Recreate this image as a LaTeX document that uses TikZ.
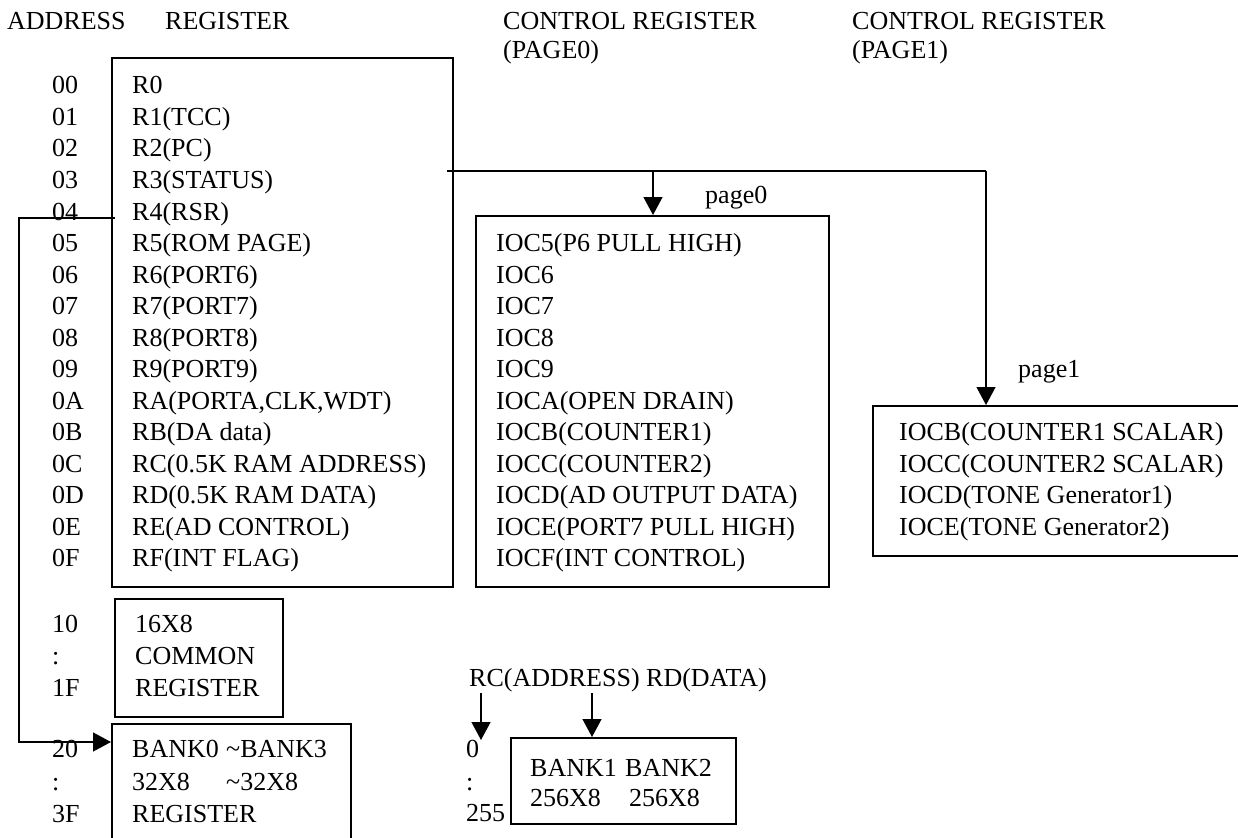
\documentclass[tikz,border=0pt]{standalone}
\usepackage{fontspec}
\setmainfont{Liberation Serif}
\usetikzlibrary{arrows.meta}
\begin{document}
\begin{tikzpicture}[x=1pt,y=-1pt,
  every node/.style={inner sep=0pt, font=\fontsize{26}{31}\selectfont},
  lbl/.style={anchor=base west},
  box/.style={draw, line width=1.8pt, anchor=north west, inner sep=0pt},
  conn/.style={line width=1.3pt},
  arr/.style={conn, -{Triangle[length=18pt,width=19pt]}}]
\useasboundingbox (0,0) rectangle (1238,837);

% headers
\node[lbl] (hAddr) at (7,30) {ADDRESS};
\node[lbl] (hReg) at (165,30) {REGISTER};
\node[lbl] (hC0a) at (503,30) {CONTROL REGISTER};
\node[lbl] (hC0b) at (503,59) {(PAGE0)};
\node[lbl] (hC1a) at (852,30) {CONTROL REGISTER};
\node[lbl] (hC1b) at (852,59) {(PAGE1)};

% boxes
\node[box, minimum width=341pt, minimum height=529pt] (reg) at (111,57) {};
\node[box, minimum width=353pt, minimum height=371pt] (p0) at (475,215) {};
\node[box, minimum width=400pt, minimum height=150pt] (p1) at (872,405) {};
\node[box, minimum width=168pt, minimum height=118pt] (com) at (114,598) {};
\node[box, minimum width=239pt, minimum height=140pt] (bank) at (111,723) {};
\node[box, minimum width=225pt, minimum height=86pt] (bk12) at (510,737) {};

% register rows
\foreach \a/\r [count=\i from 0] in {00/R0,01/R1(TCC),02/R2(PC),03/R3(STATUS),04/R4(RSR),05/R5(ROM PAGE),06/R6(PORT6),07/R7(PORT7),08/R8(PORT8),09/R9(PORT9),0A/{RA(PORTA,CLK,WDT)},0B/RB(DA data),0C/RC(0.5K RAM ADDRESS),0D/RD(0.5K RAM DATA),0E/RE(AD CONTROL),0F/RF(INT FLAG)}{
  \node[lbl] (a\i) at (52,94+31.5*\i) {\a};
  \node[lbl] (r\i) at (132,94+31.5*\i) {\r};
}
% page0 rows
\foreach \c [count=\i from 5] in {IOC5(P6 PULL HIGH),IOC6,IOC7,IOC8,IOC9,IOCA(OPEN DRAIN),IOCB(COUNTER1),IOCC(COUNTER2),IOCD(AD OUTPUT DATA),IOCE(PORT7 PULL HIGH),IOCF(INT CONTROL)}{
  \node[lbl] (c\i) at (496,94+31.5*\i) {\c};
}
% page1 rows
\foreach \c [count=\i from 11] in {IOCB(COUNTER1 SCALAR),IOCC(COUNTER2 SCALAR),IOCD(TONE Generator1),IOCE(TONE Generator2)}{
  \node[lbl] (d\i) at (899,94+31.5*\i) {\c};
}
\node[lbl] (pg0) at (705,203) {page0};
\node[lbl] (pg1) at (1018,377) {page1};

% common register
\node[lbl] (a10) at (52,632) {10};
\node[lbl] (ac1) at (52,664) {:};
\node[lbl] (a1F) at (52,696) {1F};
\node[lbl] (t1) at (135,632) {16X8};
\node[lbl] (t2) at (135,664) {COMMON};
\node[lbl] (t3) at (135,696) {REGISTER};

% bank registers
\node[lbl] (a20) at (52,757) {20};
\node[lbl] (ac2) at (52,790) {:};
\node[lbl] (a3F) at (52,822) {3F};
\node[lbl] (b1) at (132,757) {BANK0};
\node[lbl] (b2) at (226,757) {\textasciitilde BANK3};
\node[lbl] (b3) at (132,790) {32X8};
\node[lbl] (b4) at (226,790) {\textasciitilde 32X8};
\node[lbl] (b5) at (132,822) {REGISTER};

% RAM banks
\node[lbl] (rcrd) at (469,686) {RC(ADDRESS) RD(DATA)};
\node[lbl] (z0) at (466,757) {0};
\node[lbl] (zc) at (466,790) {:};
\node[lbl] (z255) at (466,821) {255};
\node[lbl] (k1) at (530,776) {BANK1};
\node[lbl] (k2) at (625,776) {BANK2};
\node[lbl] (k3) at (530,806) {256X8};
\node[lbl] (k4) at (629,806) {256X8};

% connectors
\coordinate (src) at (447,171);
\coordinate (br) at (653,171);
\coordinate (turn) at (986,171);
\draw[conn] (src) -- (turn);
\draw[arr] (br) -- (br |- p0.north);
\draw[arr] (turn) -- (turn |- p1.north);

\coordinate (r4s) at (115,218);
\coordinate (r4k) at (19,742);
\draw[arr] (r4s) -| (r4k) -- (r4k -| bank.west);

\coordinate (rca) at (481,693);
\coordinate (rcb) at (481,740);
\draw[arr] (rca) -- (rcb);
\coordinate (rda) at (592,693);
\draw[arr] (rda) -- (rda |- bk12.north);
\end{tikzpicture}
\end{document}
